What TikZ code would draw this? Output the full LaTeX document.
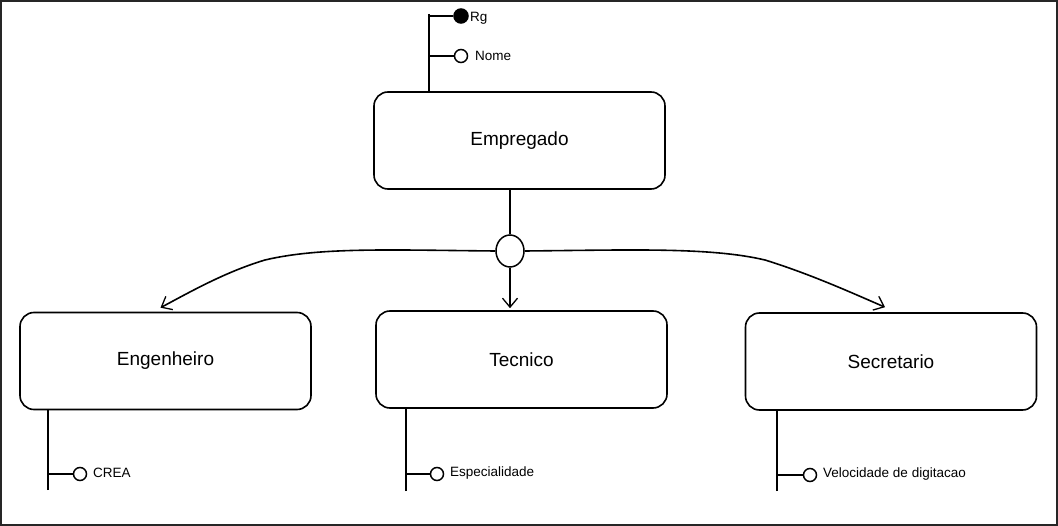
\documentclass[tikz,border=0pt]{standalone}
\usepackage{fontspec}
\setmainfont{Liberation Sans}
\usetikzlibrary{arrows.meta,shapes.geometric}
\begin{document}
\begin{tikzpicture}[x=1pt,y=-1pt,
  box/.style={draw, rounded corners=14pt, minimum width=291pt, minimum height=97pt, line width=1.6pt, font=\fontsize{19}{21}\selectfont},
  attr/.style={draw, circle, minimum size=13pt, inner sep=0pt, line width=1.5pt},
  key/.style={attr, fill=black},
  lbl/.style={anchor=west, inner sep=1pt, font=\fontsize{13.5}{15}\selectfont},
  ln/.style={line width=1.6pt},
  arr/.style={line width=1.6pt, -{Straight Barb[length=9pt,width=15pt,line width=1.3pt]}}]
\useasboundingbox (0,0) rectangle (1058,526);
\draw[line width=2pt, black!85] (1,1) rectangle (1057,525);

\node[box] (emp) at (519.5,140.5) {Empregado};
\node[box] (eng) at (165.5,361) {Engenheiro};
\node[box] (tec) at (521.5,359.5) {Tecnico};
\node[box] (sec) at (891,361.5) {Secretario};

% Empregado attributes
\coordinate (et) at (429,14);
\draw[ln] (et) -- (et |- emp.north);
\node[key, minimum size=14pt] (rg) at (461,16) {};
\node[attr] (nome) at (461,56) {};
\draw[ln] (et |- rg) -- (rg.west);
\draw[ln] (et |- nome) -- (nome.west);
\node[lbl] (rgt) at (469,18) {Rg};
\node[lbl] (nomet) at (474,56) {Nome};

% generalization
\node[draw, ellipse, minimum width=28pt, minimum height=32pt, inner sep=0pt, line width=1.5pt] (g) at (510,251) {};
\draw[ln] (g.north |- emp.south) -- (g.north);
\draw[arr] (g.west) .. controls (390,250) and (320,247) .. (265,260) .. controls (225,272) and (190,292) .. ([xshift=-5pt,yshift=4pt]eng.north);
\draw[arr] (g.east) .. controls (630,250) and (710,247) .. (765,260) .. controls (810,274) and (850,292) .. ([xshift=-6pt,yshift=5pt]sec.north);
\draw[arr] (g.south) -- ([yshift=2pt]g.south |- tec.north);

% subclass attributes
\coordinate (a1) at (48,490);
\draw[ln] (a1) -- (a1 |- eng.south);
\node[attr] (crea) at (80,474) {};
\draw[ln] (a1 |- crea) -- (crea.west);
\node[lbl] (creat) at (92,473) {CREA};

\coordinate (a2) at (406,491);
\draw[ln] (a2) -- (a2 |- tec.south);
\node[attr] (esp) at (437,474) {};
\draw[ln] (a2 |- esp) -- (esp.west);
\node[lbl] (espt) at (449,473) {Especialidade};

\coordinate (a3) at (777,491);
\draw[ln] (a3) -- (a3 |- sec.south);
\node[attr] (vel) at (810,475) {};
\draw[ln] (a3 |- vel) -- (vel.west);
\node[lbl] (velt) at (822,474) {Velocidade de digitacao};
\end{tikzpicture}
\end{document}
